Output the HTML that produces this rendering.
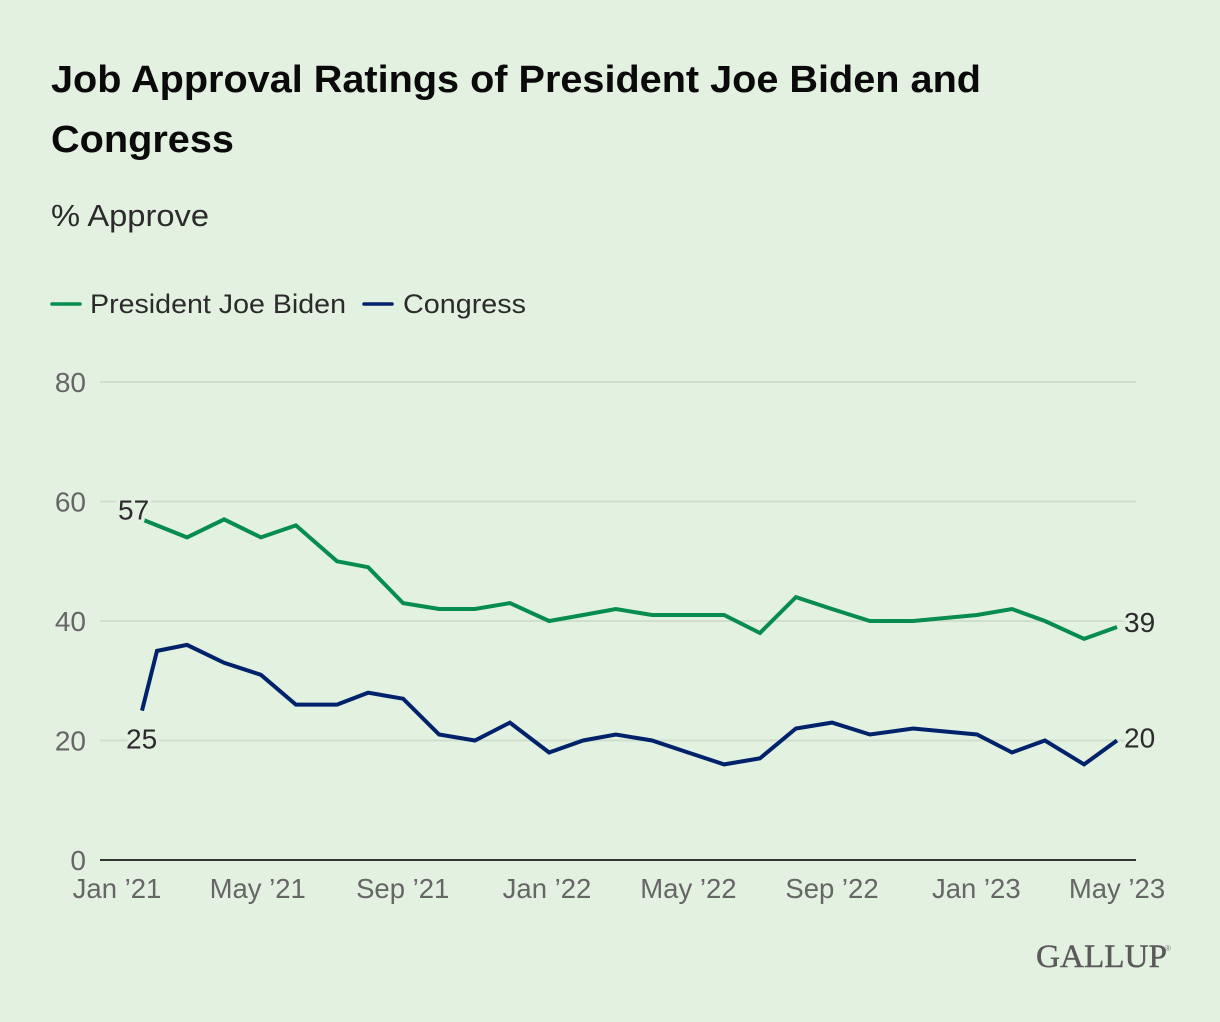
<!DOCTYPE html>
<html>
<head>
<meta charset="utf-8">
<title>Job Approval Ratings of President Joe Biden and Congress</title>
<style>
html,body{margin:0;padding:0;background:#e3f1e0;}
svg{display:block;font-family:"Liberation Sans",sans-serif;}
</style>
</head>
<body>
<svg id="chart" xmlns="http://www.w3.org/2000/svg" width="1220" height="1022" viewBox="0 0 1220 1022">
  <rect x="0" y="0" width="1220" height="1022" fill="#e3f1e0"/>
  <text x="51" y="92" font-size="38" font-weight="700" fill="#0a0a0a" textLength="930" lengthAdjust="spacingAndGlyphs">Job Approval Ratings of President Joe Biden and</text>
  <text x="51" y="152" font-size="38" font-weight="700" fill="#0a0a0a" textLength="183" lengthAdjust="spacingAndGlyphs">Congress</text>
  <text x="51" y="226" font-size="31" fill="#2b2b2b" textLength="158" lengthAdjust="spacingAndGlyphs">% Approve</text>
  <g>
    <line x1="52" x2="80" y1="304" y2="304" stroke="#058c4e" stroke-width="3.5" stroke-linecap="round"/>
    <text x="90" y="313" font-size="27" fill="#2b2b2b" textLength="256" lengthAdjust="spacingAndGlyphs">President Joe Biden</text>
    <line x1="364" x2="392" y1="304" y2="304" stroke="#00226b" stroke-width="3.5" stroke-linecap="round"/>
    <text x="403" y="313" font-size="27" fill="#2b2b2b" textLength="123" lengthAdjust="spacingAndGlyphs">Congress</text>
  </g>
  <g id="grid"></g>
  <g id="yticks"></g>
  <g id="xticks"></g>
  <g id="series"></g>
  <g id="labels"></g>
  <g>
    <text x="1036" y="967" font-family="'Liberation Serif',serif" font-size="33" fill="#5a5a5a" stroke="#5a5a5a" stroke-width="0.4" textLength="131" lengthAdjust="spacingAndGlyphs">GALLUP</text>
    <text x="1165" y="951" font-size="8" fill="#7d7d7d">®</text>
  </g>
</svg>
<script>
// Months since Jan '21 for each survey reading, with approval percentages.
const bidenMonths = [0.70,1.96,3.00,4.03,5.01,6.16,7.03,8.01,9.02,10.02,11.00,12.10,13.05,13.97,14.98,15.99,17.00,18.00,19.01,20.02,21.08,22.29,24.08,25.06,25.98,27.08,28.00];
const bidenValues = [57,54,57,54,56,50,49,43,42,42,43,40,41,42,41,41,41,38,44,42,40,40,41,42,40,37,39];
const congressMonths = [0.70,1.12,1.96,3.00,4.03,5.01,6.16,7.03,8.01,9.02,10.02,11.00,12.10,13.05,13.97,14.98,15.99,17.00,18.00,19.01,20.02,21.08,22.29,24.08,25.06,25.98,27.08,28.00];
const congressValues = [25,35,36,33,31,26,26,28,27,21,20,23,18,20,21,20,18,16,17,22,23,21,22,21,18,20,16,20];
const yTickValues = [0,20,40,60,80];
const xTickMonths = [0,3.94,8,12.04,16,20.02,24.06,28];
const xTickLabels = ["Jan \u201921","May \u201921","Sep \u201921","Jan \u201922","May \u201922","Sep \u201922","Jan \u201923","May \u201923"];

const NS = "http://www.w3.org/2000/svg";
const xScale = function (m) { return 117 + m * (1000 / 28); };
const yScale = function (v) { return 860 - v * (478 / 80); };

function make(tag, parentId, attrs, text) {
  const el = document.createElementNS(NS, tag);
  Object.keys(attrs).forEach(function (k) { el.setAttribute(k, attrs[k]); });
  if (text !== undefined) el.textContent = text;
  document.getElementById(parentId).appendChild(el);
  return el;
}

yTickValues.forEach(function (v) {
  const isBase = v === 0;
  const rule = make("line", "grid", {
    x1: 100, x2: 1136, y1: yScale(v), y2: yScale(v),
    stroke: isBase ? "#333333" : "#cfdecd", "stroke-width": 2
  });
  
  
  const tick = make("text", "yticks", {
    x: 86, y: yScale(v) + 10, "text-anchor": "end", "font-size": 28, fill: "#666666"
  }, String(v));
  
  
});

xTickMonths.forEach(function (m, i) {
  const tick = make("text", "xticks", {
    x: xScale(m), y: 898, "text-anchor": "middle", "font-size": 27.5, fill: "#666666"
  }, xTickLabels[i]);
  
  
});

function linePath(months, values) {
  return months.map(function (m, i) {
    return (i ? "L" : "M") + xScale(m).toFixed(1) + " " + yScale(values[i]).toFixed(1);
  }).join("");
}

const bidenLine = make("path", "series", {
  d: linePath(bidenMonths, bidenValues), fill: "none", stroke: "#058c4e",
  "stroke-width": 4, "stroke-linejoin": "miter", "stroke-linecap": "butt"
});



const congressLine = make("path", "series", {
  d: linePath(congressMonths, congressValues), fill: "none", stroke: "#00226b",
  "stroke-width": 4, "stroke-linejoin": "miter", "stroke-linecap": "butt"
});



function valueLabel(text, x, y, anchor) {
  return make("text", "labels", {
    x: x, y: y, "text-anchor": anchor, "font-size": 28, fill: "#2b2b2b",
    stroke: "#e3f1e0", "stroke-width": 7, "paint-order": "stroke", "stroke-linejoin": "round"
  }, text);
}

const bidenLast = bidenValues.length - 1;
const congressLast = congressValues.length - 1;

const bidenStartLabel = valueLabel(String(bidenValues[0]), xScale(bidenMonths[0]) - 24, yScale(bidenValues[0]), "start");



const congressStartLabel = valueLabel(String(congressValues[0]), xScale(congressMonths[0]) - 16, yScale(congressValues[0]) + 38, "start");



const bidenEndLabel = valueLabel(String(bidenValues[bidenLast]), xScale(bidenMonths[bidenLast]) + 7, yScale(bidenValues[bidenLast]) + 5, "start");



const congressEndLabel = valueLabel(String(congressValues[congressLast]), xScale(congressMonths[congressLast]) + 7, yScale(congressValues[congressLast]) + 7, "start");


</script>
</body>
</html>
